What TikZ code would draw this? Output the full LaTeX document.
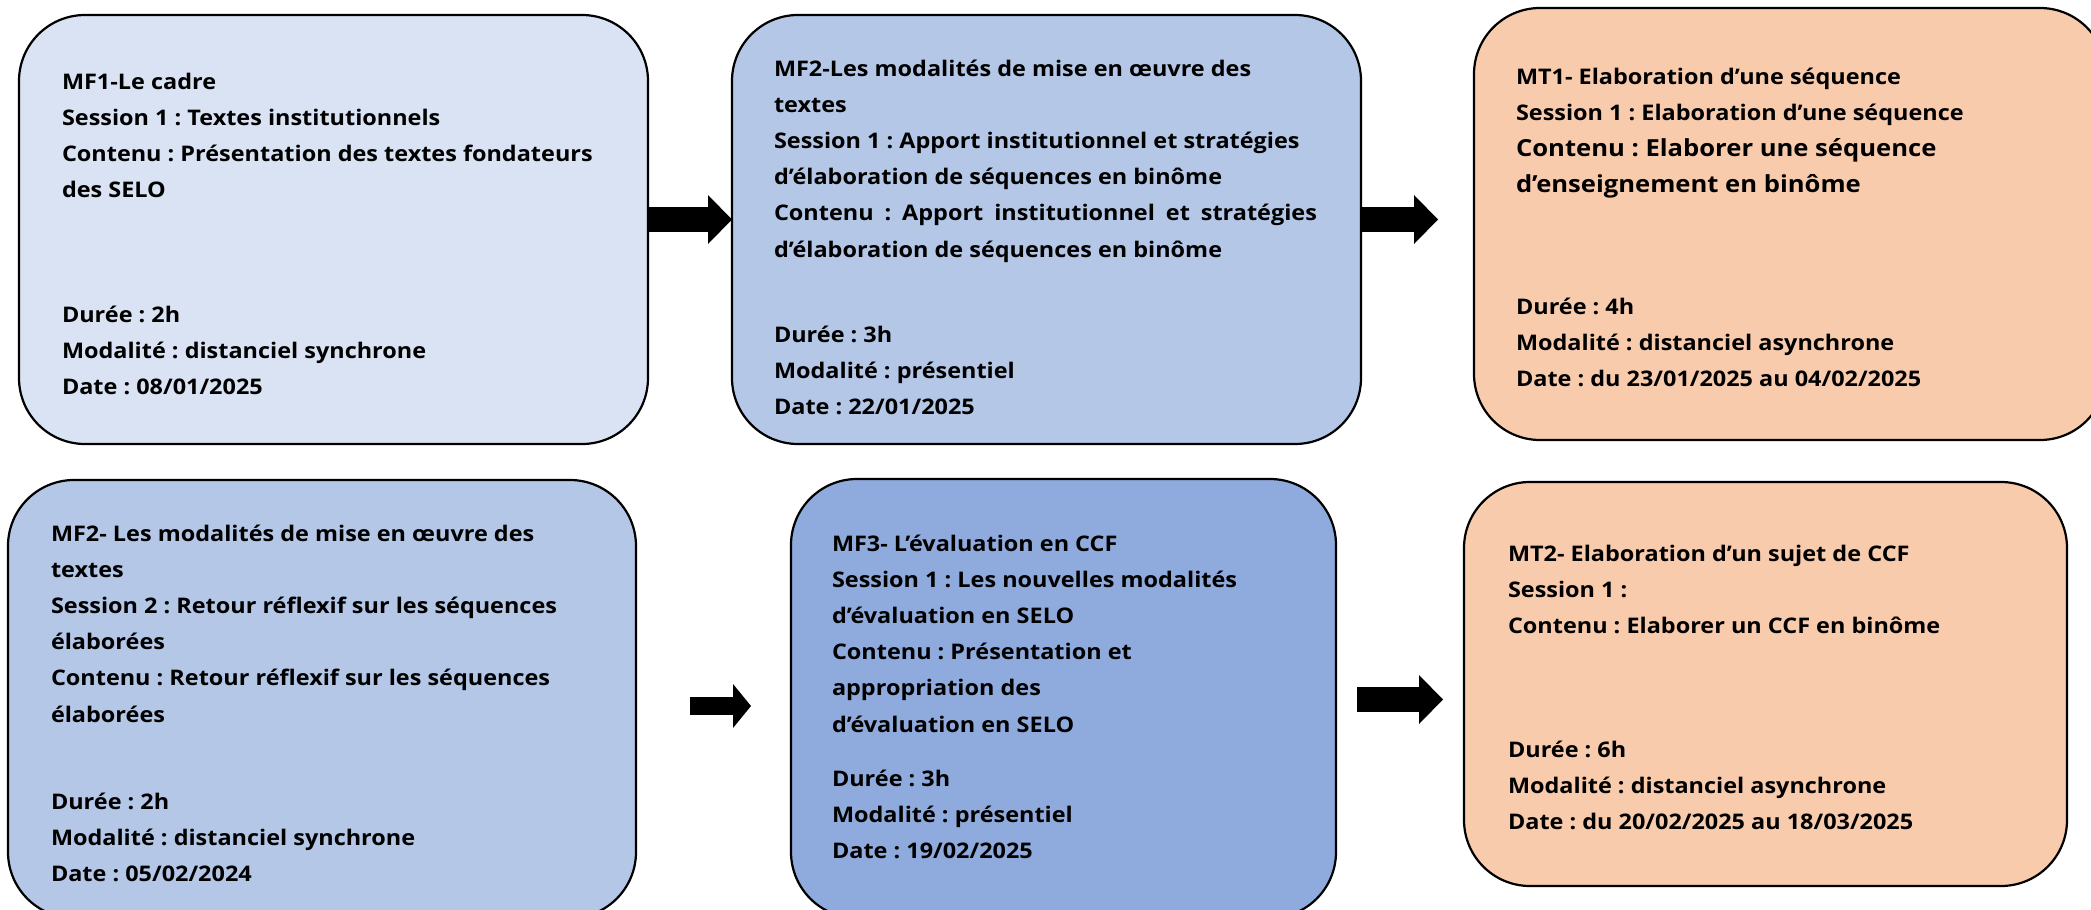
\documentclass[tikz,border=0pt]{standalone}
\usepackage{fontspec}
\setmainfont{Open Sans}[FakeStretch=1.09]
\usetikzlibrary{arrows.meta}
\definecolor{cA}{HTML}{DAE3F3}
\definecolor{cB}{HTML}{B4C7E7}
\definecolor{cC}{HTML}{8FAADC}
\definecolor{cT}{HTML}{F8CBAD}
\newcommand{\lines}[1]{\parbox[t]{700pt}{#1}}
\frenchspacing
\begin{document}
\begin{tikzpicture}[x=1pt,y=-1pt,
  box/.style={draw=black, line width=2.2pt, rounded corners=66pt, inner sep=0pt, outer sep=0pt, anchor=north west},
  txt/.style={inner sep=0pt, outer sep=0pt, anchor=base west, font=\fontsize{21.5}{36.2}\selectfont\bfseries},
  barrow/.style={line width=25pt, -{Triangle[length=24pt,width=49pt,line width=0pt]}},
  sarrow/.style={line width=18pt, -{Triangle[length=18pt,width=44pt,line width=0pt]}}]
\useasboundingbox (0,0) rectangle (2091,910);
\fill[white] (0,0) rectangle (2091,910);
% boxes
\node[box, fill=cA, minimum width=629pt, minimum height=429pt] (b1) at (19,15) {};
\node[box, fill=cB, minimum width=629pt, minimum height=429pt] (b2) at (732,15) {};
\node[box, fill=cT, minimum width=632pt, minimum height=432pt] (b3) at (1474,8) {};
\node[box, fill=cB, minimum width=628pt, minimum height=438pt] (b4) at (8,480) {};
\node[box, fill=cC, minimum width=545pt, minimum height=439pt] (b5) at (791,479) {};
\node[box, fill=cT, minimum width=603pt, minimum height=404pt] (b6) at (1464,482) {};
% texts
\node[txt] (t1) at (62,89) {\lines{MF1-Le cadre\\
Session 1 : Textes institutionnels\\
Contenu : Présentation des textes fondateurs\\
des SELO}};
\node[txt] (d1) at (62,322) {\lines{Durée : 2h\\
Modalité : distanciel synchrone\\
Date : 08/01/2025}};
\node[txt] (t2) at (774,76) {\lines{MF2-Les modalités de mise en œuvre des\\
textes\\
Session 1 : Apport institutionnel et stratégies\\
d’élaboration de séquences en binôme\\
\makebox[543pt][s]{Contenu : Apport institutionnel et stratégies}\\
d’élaboration de séquences en binôme}};
\node[txt] (d2) at (774,342) {\lines{Durée : 3h\\
Modalité : présentiel\\
Date : 22/01/2025}};
\node[txt] (t3) at (1516,84) {\lines{MT1- Elaboration d’une séquence\\
Session 1 : Elaboration d’une séquence\\
{\fontsize{23.5}{36.2}\selectfont Contenu : Elaborer une séquence\\
d’enseignement en binôme}}};
\node[txt] (d3) at (1516,314) {\lines{Durée : 4h\\
Modalité : distanciel asynchrone\\
Date : du 23/01/2025 au 04/02/2025}};
\node[txt] (t4) at (51,541) {\lines{MF2- Les modalités de mise en œuvre des\\
textes\\
Session 2 : Retour réflexif sur les séquences\\
élaborées\\
Contenu : Retour réflexif sur les séquences\\
élaborées}};
\node[txt] (d4) at (51,809) {\lines{Durée : 2h\\
Modalité : distanciel synchrone\\
Date : 05/02/2024}};
\node[txt] (t5) at (832,551) {\lines{MF3- L’évaluation en CCF\\
Session 1 : Les nouvelles modalités\\
d’évaluation en SELO\\
Contenu : Présentation et\\
appropriation des\\
d’évaluation en SELO}};
\node[txt] (d5) at (832,786) {\lines{Durée : 3h\\
Modalité : présentiel\\
Date : 19/02/2025}};
\node[txt] (t6) at (1508,561) {\lines{MT2- Elaboration d’un sujet de CCF\\
Session 1 :\\
Contenu : Elaborer un CCF en binôme}};
\node[txt] (d6) at (1508,757) {\lines{Durée : 6h\\
Modalité : distanciel asynchrone\\
Date : du 20/02/2025 au 18/03/2025}};
% arrows
\coordinate (r1) at (0,219.5);
\coordinate (a2e) at (1438,219.5);
\coordinate (a3s) at (690,706);
\coordinate (a3e) at (751,706);
\coordinate (a4s) at (1357,699.5);
\coordinate (a4e) at (1443,699.5);
\draw[barrow] (b1.east |- r1) -- (b2.west |- r1);
\draw[barrow] (b2.east |- r1) -- (a2e);
\draw[sarrow] (a3s) -- (a3e);
\draw[barrow] (a4s) -- (a4e);
\end{tikzpicture}
\end{document}
